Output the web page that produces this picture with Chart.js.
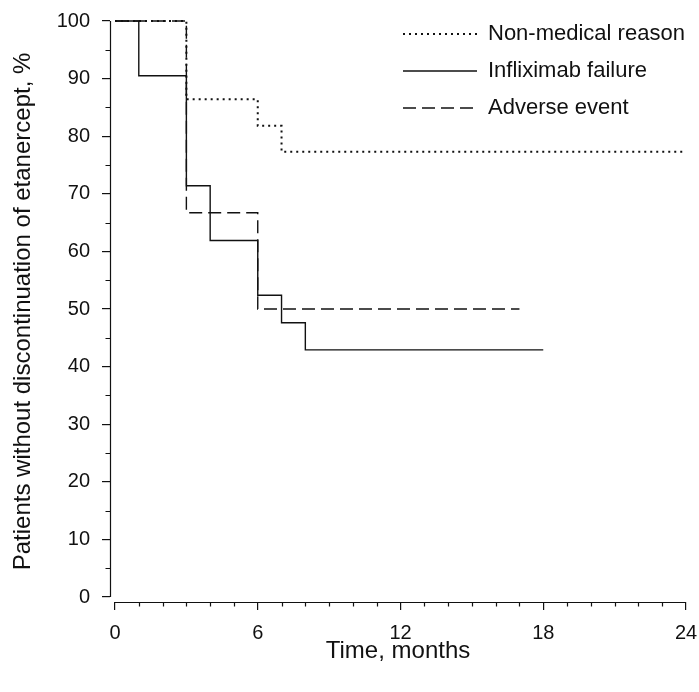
<!DOCTYPE html>
<html>
<head>
<meta charset="utf-8">
<title>Etanercept discontinuation</title>
<script src="https://cdn.jsdelivr.net/npm/chart.js@4.4.1/dist/chart.umd.min.js"></script>
<style>
  html, body { margin: 0; padding: 0; background: #fff; }
  #wrap { width: 699px; height: 692px; }
</style>
</head>
<body>
<div id="wrap"><canvas id="kmChart"></canvas></div>
<script>
// Kaplan-Meier steps: month of each drop and % still on etanercept after it
const nonMedicalMonths = [0, 3, 6, 7, 24];
const nonMedicalValues = [100, 86.4, 81.8, 77.3, 77.3];
const inflixMonths = [0, 1, 3, 4, 6, 7, 8, 18];
const inflixValues = [100, 90.5, 71.4, 61.9, 52.4, 47.6, 42.9, 42.9];
const adverseMonths = [0, 3, 6, 17];
const adverseValues = [100, 66.7, 50, 50];

const seriesLabels = ['Non-medical reason', 'Infliximab failure', 'Adverse event'];
const xTicks = [0, 6, 12, 18, 24];
const yTicks = [0, 10, 20, 30, 40, 50, 60, 70, 80, 90, 100];

const FONT = '"Liberation Sans", Arial, sans-serif';
const INK = '#111';

const toPoints = (xs, ys) => xs.map((x, i) => ({ x: x, y: ys[i] }));

// minor ticks: every month on x, every 5 % on y
const xMinor = [];
for (let m = 0; m <= 24; m++) if (m % 6) xMinor.push(m);
const yMinor = [];
for (let v = 5; v < 100; v += 10) yMinor.push(v);

// axis lines are drawn apart from each other (open corner), plus short minor ticks
const axisFrame = {
  id: 'axisFrame',
  afterLayout(chart) {
    // keep the legend inside the plot, top right
    const lg = chart.legend;
    lg.left = 388;
    lg.top = 8;
    lg.right = chart.width;
    lg.bottom = 200;
  },
  beforeDatasetsDraw(chart) {
    const { ctx, chartArea, scales: { x, y } } = chart;
    const ax = Math.round(chartArea.left) + 0.5;
    const ay = Math.round(chartArea.bottom) + 0.5;
    ctx.save();
    ctx.strokeStyle = INK;
    ctx.lineWidth = 1.2;
    ctx.beginPath();
    ctx.moveTo(ax, y.getPixelForValue(100));
    ctx.lineTo(ax, y.getPixelForValue(0));
    ctx.moveTo(x.getPixelForValue(0), ay);
    ctx.lineTo(x.getPixelForValue(24), ay);
    xMinor.forEach(v => {
      const px = Math.round(x.getPixelForValue(v)) + 0.5;
      ctx.moveTo(px, ay);
      ctx.lineTo(px, ay + 4);
    });
    yMinor.forEach(v => {
      const py = Math.round(y.getPixelForValue(v)) + 0.5;
      ctx.moveTo(ax, py);
      ctx.lineTo(ax - 5, py);
    });
    ctx.stroke();
    ctx.restore();
  }
};

const stepLine = {
  borderColor: INK,
  backgroundColor: INK,
  borderWidth: 1.4,
  stepped: true,
  pointRadius: 0,
  fill: false,
  clip: false
};

new Chart(document.getElementById('kmChart'), {
  type: 'line',
  data: {
    datasets: [
      Object.assign({}, stepLine, {
        label: seriesLabels[0],
        data: toPoints(nonMedicalMonths, nonMedicalValues),
        borderDash: [2, 4],
        borderWidth: 2
      }),
      Object.assign({}, stepLine, {
        label: seriesLabels[1],
        data: toPoints(inflixMonths, inflixValues)
      }),
      Object.assign({}, stepLine, {
        label: seriesLabels[2],
        data: toPoints(adverseMonths, adverseValues),
        borderDash: [13, 6]
      })
    ]
  },
  options: {
    responsive: true,
    maintainAspectRatio: false,
    animation: false,
    layout: { padding: { top: 21, right: 13, bottom: 0, left: 0 } },
    scales: {
      x: {
        type: 'linear',
        min: -120 / 571,
        max: 24,
        afterBuildTicks: s => { s.ticks = xTicks.map(v => ({ value: v })); },
        afterFit: s => { s.height = 90; s.paddingLeft = 0; s.paddingRight = 0; },
        border: { display: false },
        grid: { drawOnChartArea: false, tickLength: 8, tickColor: INK, lineWidth: 1.2 },
        ticks: { color: INK, font: { family: FONT, size: 20 }, padding: 11, maxRotation: 0, autoSkip: false },
        title: {
          display: true,
          text: 'Time, months',
          color: INK,
          font: { family: FONT, size: 24 },
          padding: { top: 0, bottom: 26 }
        }
      },
      y: {
        type: 'linear',
        min: -0.868,
        max: 100,
        afterBuildTicks: s => { s.ticks = yTicks.map(v => ({ value: v })); },
        afterFit: s => { s.width = 110; s.paddingTop = 0; s.paddingBottom = 0; },
        border: { display: false },
        grid: { drawOnChartArea: false, tickLength: 8, tickColor: INK, lineWidth: 1.2 },
        ticks: { color: INK, font: { family: FONT, size: 20 }, padding: 12, autoSkip: false },
        title: {
          display: true,
          text: 'Patients without discontinuation of etanercept, %',
          color: INK,
          font: { family: FONT, size: 24 },
          padding: { top: 9, bottom: 0 }
        }
      }
    },
    plugins: {
      legend: {
        position: 'chartArea',
        align: 'start',
        labels: {
          usePointStyle: true,
          pointStyle: 'line',
          pointStyleWidth: 74,
          padding: 15,
          color: INK,
          font: { family: FONT, size: 22 },
          // line samples take the dash pattern of their dataset
          generateLabels(chart) {
            const items = Chart.defaults.plugins.legend.labels.generateLabels(chart);
            items.forEach(item => {
              const ds = chart.data.datasets[item.datasetIndex];
              item.lineDash = ds.borderDash || [];
              item.lineWidth = ds.borderWidth;
              item.strokeStyle = ds.borderColor;
            });
            return items;
          }
        }
      },
      tooltip: { enabled: false }
    }
  },
  plugins: [axisFrame]
});
</script>
</body>
</html>
